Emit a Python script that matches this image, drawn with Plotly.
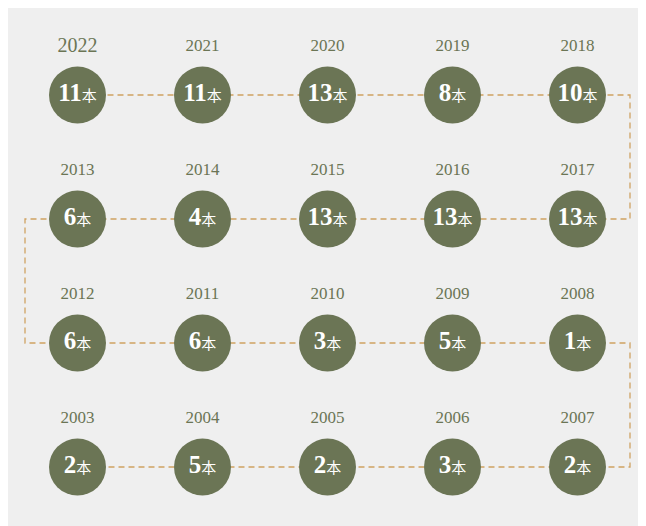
import plotly.graph_objects as go

# ---- data ----
years = [2022, 2021, 2020, 2019, 2018,
         2017, 2016, 2015, 2014, 2013,
         2012, 2011, 2010, 2009, 2008,
         2007, 2006, 2005, 2004, 2003]
counts = [11, 11, 13, 8, 10,
          13, 13, 13, 4, 6,
          6, 6, 3, 5, 1,
          2, 3, 2, 5, 2]
unit = "本"

# ---- layout constants (page-pixel coordinate system) ----
W, H = 646, 526
OFF = 8  # page body margin
X0, DX = 77.5, 125
Y0, DY = 95, 124
PER_ROW = 5
RIGHT_EDGE, LEFT_EDGE = 630, 25
GREEN = "#6b7555"
TAN = "#cfa262"

xs, ys = [], []
for k, yr in enumerate(years):
    r, p = divmod(k, PER_ROW)
    c = p if r % 2 == 0 else PER_ROW - 1 - p
    xs.append(X0 + c * DX)
    ys.append(Y0 + r * DY)

# snake path through circles
px, py = [], []
for k in range(len(years)):
    px.append(xs[k]); py.append(ys[k])
    r, p = divmod(k, PER_ROW)
    if p == PER_ROW - 1 and k < len(years) - 1:
        edge = RIGHT_EDGE if r % 2 == 0 else LEFT_EDGE
        px += [edge, edge]
        py += [ys[k], ys[k] + DY]

fig = go.Figure()
fig.add_trace(go.Scatter(x=px, y=py, mode="lines",
                         line=dict(color=TAN, width=1.3, dash="6px,4px"),
                         hoverinfo="skip", showlegend=False))

labels = [f"<b>{n}</b><span style='font-size:15px;font-weight:normal'>{unit}</span>" for n in counts]
fig.add_trace(go.Scatter(x=xs, y=ys, mode="markers+text",
                         marker=dict(size=57, color=GREEN, line=dict(width=0)),
                         text=labels, textposition="middle center",
                         textfont=dict(family="Liberation Serif, Noto Sans CJK SC", size=25, color="#ffffff"),
                         hoverinfo="skip", showlegend=False))

year_sizes = [20 if yr == years[0] else 17 for yr in years]
fig.add_trace(go.Scatter(x=xs, y=[y - 48 for y in ys], mode="text",
                         text=[str(y) for y in years], textposition="middle center",
                         textfont=dict(family="Liberation Serif", size=year_sizes, color=GREEN),
                         hoverinfo="skip", showlegend=False))

fig.add_shape(type="rect", xref="x", yref="y", x0=6, x1=W, y0=0, y1=H,
              fillcolor="#efefef", line=dict(width=0), layer="below")

fig.update_layout(width=W - OFF, height=H - OFF, margin=dict(l=0, r=0, t=0, b=0),
                  paper_bgcolor="#efefef", plot_bgcolor="#efefef",
                  xaxis=dict(range=[OFF, W], visible=False, fixedrange=True),
                  yaxis=dict(range=[H, OFF], visible=False, fixedrange=True))

fig.write_html("out.html")
